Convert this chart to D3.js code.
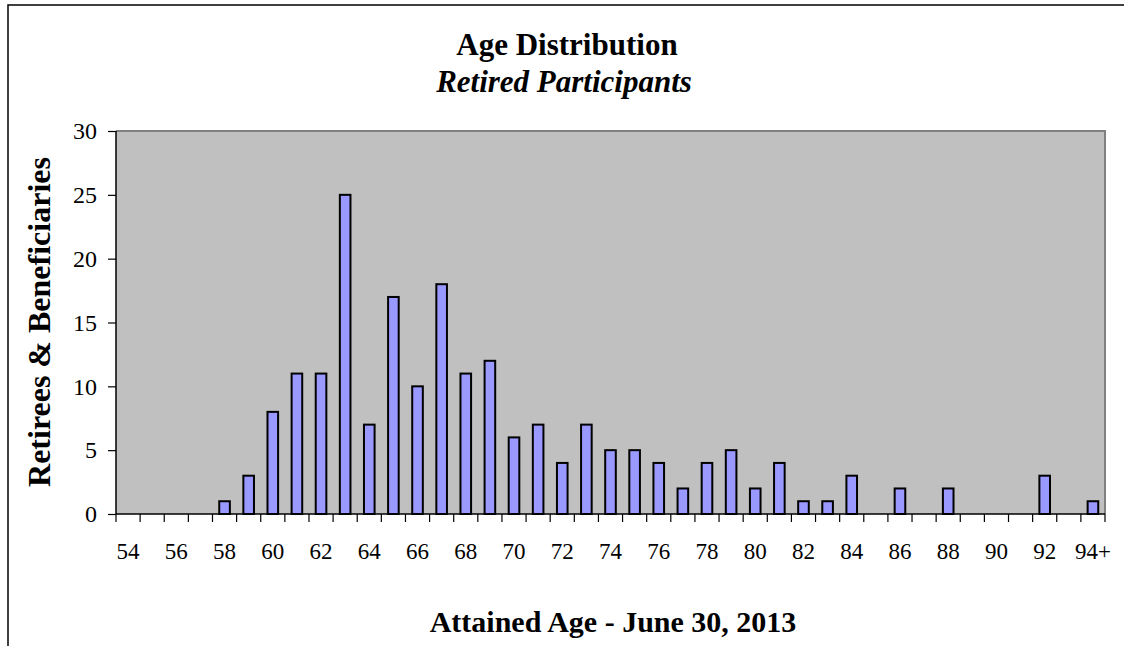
<!DOCTYPE html>
<html><head><meta charset="utf-8">
<script src="https://cdn.jsdelivr.net/npm/d3@7"></script>
<style>body{margin:0;background:#fff}svg{display:block}text{font-family:"Liberation Serif","Times New Roman",serif}</style>
</head><body>
<script>
const categories = ["54","55","56","57","58","59","60","61","62","63","64","65","66","67","68","69","70","71","72","73","74","75","76","77","78","79","80","81","82","83","84","85","86","87","88","89","90","91","92","93","94+"];
const values = [0,0,0,0,1,3,8,11,11,25,7,17,10,18,11,12,6,7,4,7,5,5,4,2,4,5,2,4,1,1,3,0,2,0,2,0,0,0,3,0,1];
const yTicks = [0,5,10,15,20,25,30];
const labelCats = categories.filter((d,i)=>i%2===0);

const W=1124,H=646;
const m={l:116,t:131,r:1105,b:514};
const svg=d3.select("body").append("svg").attr("width",W).attr("height",H);
svg.append("rect").attr("x",8).attr("y",5).attr("width",W+20).attr("height",H+20).attr("fill","#fff").attr("stroke","#000").attr("stroke-width",1.5);

const x=d3.scaleBand().domain(categories).range([m.l,m.r]).paddingInner(0.56).paddingOuter(0.28);
const xb=d3.scaleBand().domain(categories).range([m.l,m.r]);
const y=d3.scaleLinear().domain([0,30]).range([m.b,m.t]);

svg.append("rect").attr("x",m.l).attr("y",m.t).attr("width",m.r-m.l).attr("height",m.b-m.t).attr("fill","#C0C0C0");
svg.append("path").attr("d",`M${m.l},${m.t}H${m.r}V${m.b}`).attr("fill","none").attr("stroke","#808080").attr("stroke-width",2);

const bars=svg.append("g");
bars.selectAll("rect").data(categories.map((c,i)=>({c,v:values[i]})).filter(d=>d.v>0)).join("rect")
 .attr("x",d=>x(d.c)).attr("width",x.bandwidth()).attr("y",d=>y(d.v)).attr("height",d=>y(0)-y(d.v))
 .attr("fill","#9999FF").attr("stroke","#000").attr("stroke-width",2);

// y axis
const ya=svg.append("g").attr("transform",`translate(${m.l},0)`).call(d3.axisLeft(y).tickValues(yTicks).tickSize(8).tickPadding(11));
ya.select(".domain").attr("stroke","#000").attr("stroke-width",1.5).attr("d",`M0,${m.t}V${m.b}`);
ya.selectAll(".tick line").attr("stroke","#000").attr("stroke-width",1.2);
ya.selectAll("text").attr("font-size",24).attr("fill","#000").attr("font-family","Liberation Serif");

// x axis
const xa=svg.append("g").attr("transform",`translate(0,${m.b})`);
xa.append("line").attr("x1",m.l).attr("x2",m.r).attr("stroke","#000").attr("stroke-width",1.5);
xa.selectAll(".tk").data(categories.concat(["end"])).join("line")
 .attr("x1",(d,i)=>i<categories.length?xb(d):m.r).attr("x2",(d,i)=>i<categories.length?xb(d):m.r)
 .attr("y1",0).attr("y2",8).attr("stroke","#000").attr("stroke-width",1.2);
xa.selectAll(".lb").data(labelCats).join("text")
 .attr("x",d=>xb(d)+xb.bandwidth()/2).attr("y",45).attr("text-anchor","middle")
 .attr("font-size",23).attr("fill","#000").text(d=>d);

// titles
svg.append("text").attr("x",567).attr("y",55).attr("text-anchor","middle").attr("font-size",31).attr("font-weight","bold").text("Age Distribution");
svg.append("text").attr("x",564).attr("y",92).attr("text-anchor","middle").attr("font-size",31).attr("font-weight","bold").attr("font-style","italic").text("Retired Participants");
svg.append("text").attr("x",613).attr("y",632).attr("text-anchor","middle").attr("font-size",30).attr("font-weight","bold").text("Attained Age - June 30, 2013");
svg.append("text").attr("transform","translate(50,322) rotate(-90)").attr("text-anchor","middle").attr("font-size",32).attr("font-weight","bold").text("Retirees & Beneficiaries");
</script>
</body></html>
